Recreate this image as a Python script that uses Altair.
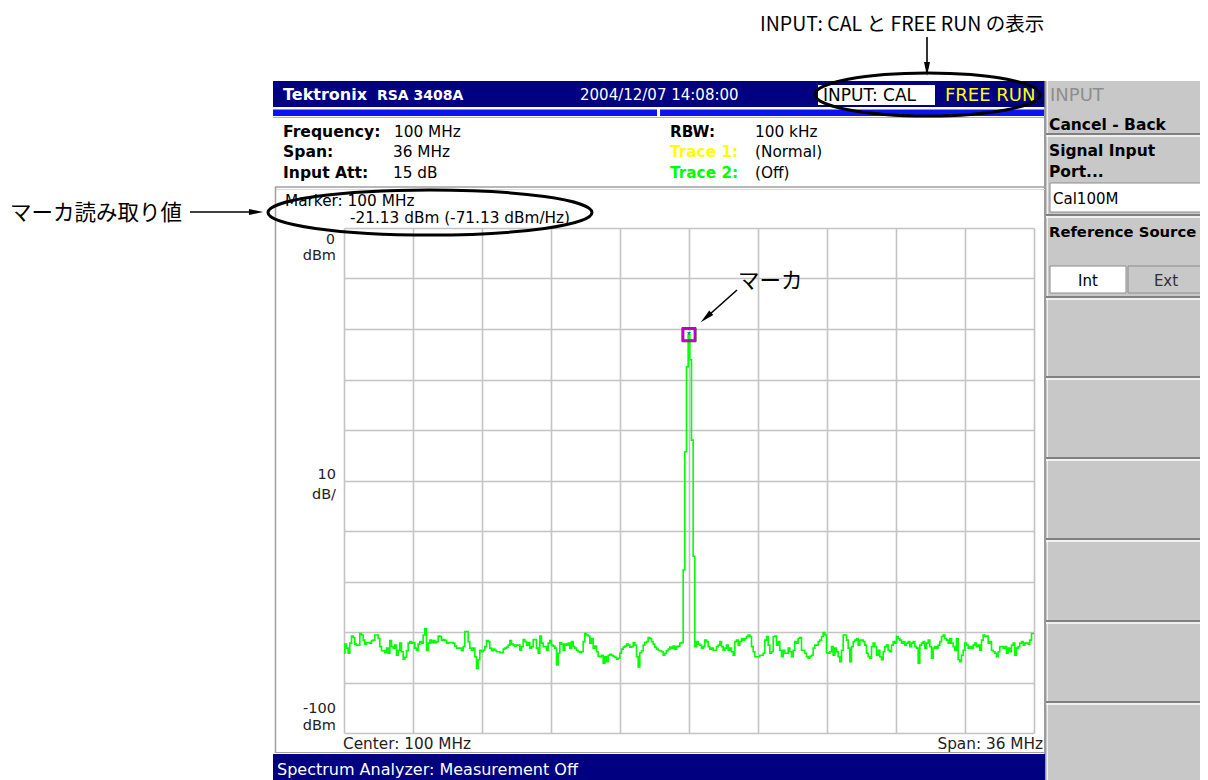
import altair as alt
import pandas as pd
import numpy as np

# ---------------- data read from the screen ----------------
# trace levels (dBm), left of the carrier, evenly spaced from 82 MHz
noise_left = [
    -84.2, -82.4, -83.2, -84.2, -82.2, -80.8, -81.1, -82.4, -82.6, -82.6,
    -80.3, -80.6, -81.6, -82.4, -82.1, -82.1, -82.2, -81.7, -81.6, -80.6,
    -80.6, -81.3, -82.9, -83.7, -83.7, -84.1, -83.2, -84.2, -81.7, -82.9,
    -83.2, -82.6, -84.6, -83.6, -82.2, -83.9, -85.4, -85.0, -83.7, -82.2,
    -81.9, -82.2, -82.1, -83.2, -83.6, -82.4, -81.9, -82.2, -80.6, -79.3,
    -83.6, -82.2, -81.6, -82.1, -81.7, -82.1, -81.9, -80.8, -80.9, -81.6,
    -81.5, -81.7, -82.2, -82.1, -82.1, -82.1, -82.2, -82.8, -83.2, -83.2,
    -83.2, -83.7, -82.9, -79.9, -79.9, -81.9, -83.2, -83.6, -83.2, -84.9,
    -87.2, -85.5, -83.6, -83.9, -83.6, -82.9, -81.7, -81.9, -83.2, -83.7,
    -83.4, -83.6, -83.9, -83.9, -84.1, -84.1, -83.4, -83.2, -83.0, -82.6,
    -81.7, -82.4, -82.6, -82.8, -82.6, -82.6,
    -83.6, -82.9, -81.5, -81.9, -82.6, -82.1, -83.2, -82.9, -81.5, -81.5,
    -83.2, -84.2, -80.8, -82.2, -82.9, -82.9, -83.6, -82.2, -81.7, -82.6,
    -82.8, -83.2, -86.5, -84.2, -82.1, -82.4, -83.6, -82.4, -82.6, -82.2,
    -83.2, -81.9, -82.9, -83.2, -83.6, -83.9, -84.1, -83.9, -81.9, -80.3,
    -80.6, -80.8, -82.2, -81.3, -83.2, -82.8, -83.9, -84.8, -84.9, -84.6,
    -86.2, -84.9, -85.9, -84.6, -84.4, -84.6, -84.8, -85.0, -85.4, -85.2,
    -84.2, -83.4, -83.0, -82.8, -82.4, -82.6, -83.0, -82.9, -82.1, -82.6,
    -84.9, -86.9, -84.1, -83.7, -82.6, -82.1, -81.9, -81.1, -81.3, -81.9,
    -82.4, -83.0, -83.4, -83.6, -83.7, -83.9, -84.6, -84.2, -83.7, -83.4,
    -83.0, -83.2, -82.8, -83.4, -82.9, -82.8, -82.2, -82.1,
]
# the carrier (100 MHz calibration signal)
peak_freq = [99.739, 99.826, 99.913, 100.0, 100.087, 100.174, 100.261]
peak_level = [-67.7, -44.3, -27.5, -21.13, -26.1, -42.0, -65.0]
# trace levels (dBm), right of the carrier, evenly spaced up to 118 MHz
noise_right = [
    -82.9, -81.9, -82.4, -82.6, -83.2, -82.9, -81.6, -81.9, -82.9, -83.4,
    -83.2, -83.6, -83.6, -82.9, -82.6, -81.9, -82.9, -83.6, -83.2, -82.6,
    -83.6, -83.2, -83.9, -84.6, -81.9, -81.6, -82.6, -81.9, -81.3, -81.6,
    -81.3, -80.9, -80.6, -80.9, -82.9, -83.9, -84.9, -84.9, -84.9, -84.6,
    -84.6, -84.2, -81.6, -80.9, -82.6, -84.2, -83.9, -80.9, -80.8, -82.6,
    -81.9, -83.6, -84.9, -83.6, -84.2, -84.2, -83.2, -83.9, -84.9, -83.6,
    -81.9, -82.2, -81.3, -81.1, -83.6, -83.6, -84.2, -84.9, -85.2, -84.8,
    -84.6, -83.2, -82.6, -82.6, -81.9, -81.6, -80.9, -80.1, -80.6, -84.1,
    -84.2, -83.9, -82.9, -84.6, -83.2, -83.9, -84.9, -85.9, -83.6, -80.6,
    -80.6, -81.6, -83.2, -85.9, -82.9, -81.9, -81.6, -81.3, -82.6, -81.6,
    -81.6, -81.9,
    -82.6, -84.2, -84.9, -85.2, -82.9, -82.2, -82.9, -84.6, -83.6, -84.9,
    -85.5, -83.9, -82.9, -82.6, -83.6, -83.9, -82.6, -81.9, -82.2, -80.9,
    -81.3, -81.6, -82.2, -81.9, -82.6, -82.2, -81.9, -82.9, -82.2, -81.9,
    -82.9, -83.2, -86.2, -82.6, -82.2, -81.9, -83.2, -82.2, -81.6, -82.9,
    -85.2, -83.2, -82.9, -83.2, -82.6, -81.9, -80.9, -80.6, -81.3, -81.6,
    -82.2, -81.3, -82.2, -82.9, -83.6, -81.3, -85.5, -85.9, -84.6, -83.6,
    -82.2, -82.6, -83.2, -82.9, -83.2, -82.6, -82.2, -82.9, -82.6, -83.6,
    -81.6, -80.6, -80.9, -80.8, -82.2, -81.9, -83.6, -83.9, -84.2, -84.9,
    -83.9, -82.9, -82.9, -83.2, -82.9, -84.2, -83.2, -83.9, -82.6, -82.2,
    -84.6, -83.2, -82.9, -82.2, -81.9, -82.6, -82.2, -82.2, -82.4, -81.6,
    -80.3, -80.3,
]
span_start, span_stop = 82.0, 118.0
left_stop, right_start = 99.652, 100.348
x_grid = [82.0, 85.6, 89.2, 92.8, 96.4, 100.0, 103.6, 107.2, 110.8, 114.4, 118.0]
y_grid = [-100, -90, -80, -70, -60, -50, -40, -30, -20, -10, 0]
marker_freq = [100.0]
marker_level = [-21.13]

freq = (list(np.linspace(span_start, left_stop, len(noise_left))) + peak_freq
        + list(np.linspace(right_start, span_stop, len(noise_right))))
level = noise_left + peak_level + noise_right
trace = pd.DataFrame({"f": freq, "dbm": level})
marker = pd.DataFrame({"f": marker_freq, "dbm": marker_level})

# ---------------- layout helpers ----------------
OX, OY = 344, 228          # page position of the plot area's top-left corner
FONT = "DejaVu Sans"
JP = "Noto Sans CJK JP"
blank = alt.Data(values=[{"k": 0}])


def px(X):
    return X - OX


def py(Y):
    return Y - OY


def box(x1, y1, x2, y2, fill, stroke=None, sw=0):
    kw = dict(fill=fill)
    if stroke:
        kw.update(stroke=stroke, strokeWidth=sw)
    return alt.Chart(blank).mark_rect(**kw).encode(
        x=alt.value(px(x1)), x2=alt.value(px(x2)),
        y=alt.value(py(y1)), y2=alt.value(py(y2)))


def seg(x1, y1, x2, y2, color, sw):
    return alt.Chart(blank).mark_rule(color=color, strokeWidth=sw).encode(
        x=alt.value(px(x1)), x2=alt.value(px(x2)),
        y=alt.value(py(y1)), y2=alt.value(py(y2)))


def label(s, X, Y, size=15, color="black", weight="normal", align="left",
          font=FONT, baseline="alphabetic"):
    return alt.Chart(blank).mark_text(
        text=s, font=font, fontSize=size, color=color, fontWeight=weight,
        align=align, baseline=baseline).encode(
        x=alt.value(px(X)), y=alt.value(py(Y)))


def ellipse(cx, cy, w, h):
    r = h / w
    k = 0.5523
    p = (f"M -1 0 C -1 {-k*r:.4f} {-k:.4f} {-r:.4f} 0 {-r:.4f} "
         f"C {k:.4f} {-r:.4f} 1 {-k*r:.4f} 1 0 "
         f"C 1 {k*r:.4f} {k:.4f} {r:.4f} 0 {r:.4f} "
         f"C {-k:.4f} {r:.4f} -1 {k*r:.4f} -1 0 Z")
    return alt.Chart(blank).mark_point(
        shape=p, size=w * w, filled=False, color="black", strokeWidth=3,
        opacity=1).encode(x=alt.value(px(cx)), y=alt.value(py(cy)))


HEAD = "M 0 -1 L 0.42 1 L -0.42 1 Z"


def head(cx, cy, angle):
    return alt.Chart(blank).mark_point(
        shape=HEAD, size=200, filled=True, color="black", opacity=1,
        angle=angle).encode(x=alt.value(px(cx)), y=alt.value(py(cy)))


layers = []
# ---------------- instrument chrome ----------------
NAVY = "#000080"
PANEL = "#C8C8C8"
layers += [
    box(273, 81, 1045, 107, NAVY),
    box(273, 109.5, 657, 116, "#0A14F0"),
    box(660, 109.5, 1044, 116, "#0A14F0"),
    seg(273, 117.5, 1045, 117.5, "#B4B4B4", 1),
    box(818, 85, 935, 105, "white"),
    box(1046, 81, 1210, 782, PANEL),
    seg(1045, 81, 1045, 782, "#7A7A7A", 1.5),
    seg(1047.5, 81, 1047.5, 782, "#F0F0F0", 1),
]
for yy in [134, 215, 297, 377, 458, 539, 621, 702]:
    layers.append(seg(1046, yy, 1210, yy, "#808080", 2))
    layers.append(seg(1046, yy + 2, 1210, yy + 2, "#FFFFFF", 1.5))
layers += [
    box(1050, 183, 1205, 212, "white", "#8C8C8C", 1),
    box(1050, 266, 1126, 293, "white", "#8C8C8C", 1),
    box(1128, 266, 1205, 293, PANEL, "#8C8C8C", 1),
    box(273, 754, 1045, 782, NAVY),
    seg(275, 187, 1045, 187, "#A0A0A0", 1.5),
    seg(275, 189.5, 1045, 189.5, "#DADADA", 1),
    seg(275.5, 187, 275.5, 753, "#A0A0A0", 1.5),
    seg(275, 752.5, 1045, 752.5, "#A0A0A0", 1),
]
# header texts
layers += [
    label("Tektronix", 283, 100, 16, "white", "bold"),
    label("RSA 3408A", 377, 100, 14, "white", "bold"),
    label("2004/12/07 14:08:00", 580, 100, 15, "white"),
    label("INPUT: CAL", 823, 101, 17, "black"),
    label("FREE RUN", 945, 101, 18, "#FFFF00"),
]
# softkeys
layers += [
    label("INPUT", 1050, 101, 18, "#8E8E8E"),
    label("Cancel - Back", 1049, 130, 15.5, "black", "bold"),
    label("Signal Input", 1049, 156, 15.5, "black", "bold"),
    label("Port...", 1049, 177, 15.5, "black", "bold"),
    label("Cal100M", 1053, 204, 15),
    label("Reference Source", 1049, 237, 14.8, "black", "bold"),
    label("Int", 1088, 286, 15, align="center"),
    label("Ext", 1166, 286, 15, color="#303030", align="center"),
]
# settings readout
layers += [
    label("Frequency:", 283, 137, 15.6, weight="bold"),
    label("100 MHz", 394, 137, 15.3),
    label("Span:", 283, 157, 15.6, weight="bold"),
    label("36 MHz", 393, 157, 15.3),
    label("Input Att:", 283, 178, 15.6, weight="bold"),
    label("15 dB", 393, 178, 15.3),
    label("RBW:", 670, 137, 15.3, weight="bold"),
    label("100 kHz", 755, 137, 15.3),
    label("Trace 1:", 670, 157, 15.3, color="#FFFF00", weight="bold"),
    label("(Normal)", 755, 157, 15.3),
    label("Trace 2:", 670, 178, 15.3, color="#00FF00", weight="bold"),
    label("(Off)", 755, 178, 15.3),
    label("Marker: 100 MHz", 285, 206, 15.3),
    label("-21.13 dBm (-71.13 dBm/Hz)", 350, 223, 15.3),
]
# vertical scale labels and footer
layers += [
    label("0", 335, 244, 14, "#222222", align="right"),
    label("dBm", 336, 260, 14.5, "#222222", align="right"),
    label("10", 336, 479, 14.5, "#222222", align="right"),
    label("dB/", 336, 499, 14.5, "#222222", align="right"),
    label("-100", 336, 713, 14.5, "#222222", align="right"),
    label("dBm", 336, 730, 14.5, "#222222", align="right"),
    label("Center: 100 MHz", 343, 749, 15.3, "#222222"),
    label("Span: 36 MHz", 1043, 749, 15.3, "#222222", align="right"),
    label("Spectrum Analyzer: Measurement Off", 277, 775, 16, "white"),
]

# ---------------- the spectrum ----------------
gridcol = "#C4C4C4"
xenc = alt.X("f:Q", scale=alt.Scale(domain=[span_start, span_stop], nice=False, zero=False),
             axis=alt.Axis(values=x_grid, grid=True, labels=False, ticks=False,
                           domain=False, title=None, gridColor=gridcol, gridWidth=1.6))
yenc = alt.Y("dbm:Q", scale=alt.Scale(domain=[-100, 0], nice=False, zero=False),
             axis=alt.Axis(values=y_grid, grid=True, labels=False, ticks=False,
                           domain=False, title=None, gridColor=gridcol, gridWidth=1.6))
line = alt.Chart(trace).mark_line(color="#00FF00", strokeWidth=1.6,
                                  interpolate="step").encode(x=xenc, y=yenc)
mk = alt.Chart(marker)
layers += [
    line,
    mk.mark_point(shape="square", size=200, filled=False, color="#3A3A3A",
                  strokeWidth=1, opacity=1).encode(x="f:Q", y="dbm:Q"),
    mk.mark_point(shape="square", size=135, filled=False, color="#C000C0",
                  strokeWidth=2.4, opacity=1).encode(x="f:Q", y="dbm:Q"),
    mk.mark_point(shape="triangle-down", size=16, filled=True, color="#108C8C",
                  opacity=1, yOffset=-1).encode(x="f:Q", y="dbm:Q"),
]

# ---------------- annotations ----------------
layers += [
    label("INPUT: CAL と FREE RUN の表示", 760, 31, 19.5, font=JP),
    seg(927, 37, 927, 64, "black", 1.6),
    head(927, 69, 180),
    ellipse(927.5, 94.5, 225, 43),
    label("マーカ読み取り値", 10, 220, 21.5, font=JP),
    seg(190, 212, 252, 212, "black", 1.6),
    head(256, 212, 90),
    ellipse(430, 212.5, 324, 45),
    label("マーカ", 738, 288, 21.5, font=JP),
    seg(737, 290, 709, 315, "black", 1.6),
    head(706, 317.5, 228),
]

chart = alt.layer(*layers).properties(
    width=690, height=505,
    autosize=alt.AutoSizeParams(type="none"),
    padding={"left": 336, "top": 220, "right": 166, "bottom": 47},
).configure_view(stroke=None)

chart.save("out.html", embed_options={"renderer": "svg", "actions": False})
